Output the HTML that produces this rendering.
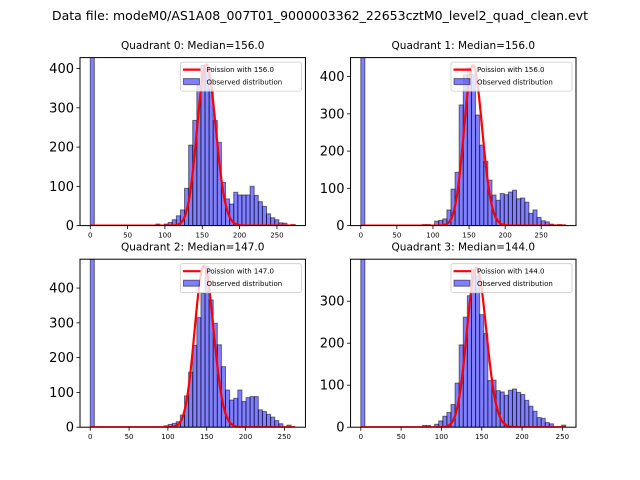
<!DOCTYPE html>
<html><head><meta charset="utf-8"><style>
html,body{margin:0;padding:0;background:#fff;}
svg{display:block;font-family:"DejaVu Sans","Liberation Sans",sans-serif;}
</style></head><body>
<svg id="fig" width="640" height="480" viewBox="0 0 640 480" xmlns="http://www.w3.org/2000/svg">
<rect x="0" y="0" width="640" height="480" fill="#fff"/>
<text x="320" y="20" text-anchor="middle" font-size="12.5" textLength="536" lengthAdjust="spacingAndGlyphs">Data file: modeM0/AS1A08_007T01_9000003362_22653cztM0_level2_quad_clean.evt</text>
</svg>
<script>
// ---- data ----
const quadrantNames = ["Quadrant 0","Quadrant 1","Quadrant 2","Quadrant 3"];
const medians = [156.0, 156.0, 147.0, 144.0];
const dataMax = [274.5, 284, 264, 254.2];
const yMaxes = [428, 451, 483, 400];
const yTicks0 = [0,100,200,300,400];
const yTicks1 = [0,100,200,300,400];
const yTicks2 = [0,100,200,300,400];
const yTicks3 = [0,100,200,300];
const xTickLabels = [0,50,100,150,200,250];
const zeroBinCounts = [5000,5000,5000,5000];
const firstBins = [16,15,18,15];
const counts0 = [4,0,4,8,15,25,40,95,205,268,357,408,400,348,268,212,110,68,55,85,78,78,78,100,77,61,49,30,20,15,7,6,0,3];
const counts1 = [3,3,0,12,14,18,42,98,143,324,404,423,405,297,216,172,122,82,68,86,83,90,95,72,74,63,33,42,22,13,10,4,2,3,2];
const counts2 = [4,8,11,16,35,90,158,235,315,385,462,366,299,237,174,107,78,83,107,74,85,88,88,50,45,37,29,19,10,0,6];
const counts3 = [4,4,0,7,15,26,35,54,105,196,262,313,376,360,268,223,111,112,87,84,76,88,91,83,78,64,50,38,23,21,11,8,0,0,5];
const curveScales = [12850, 13480, 14100, 11430];
const nBins = 50;

const allCounts=[counts0,counts1,counts2,counts3];
const allYTicks=[yTicks0,yTicks1,yTicks2,yTicks3];
const NS="http://www.w3.org/2000/svg";
const fig=document.getElementById('fig');
function mk(tag,attrs,parent){const e=document.createElementNS(NS,tag);for(const k in attrs)e.setAttribute(k,attrs[k]);(parent||fig).appendChild(e);return e;}
function lgamma(z){
  if(z<7){let p=1;while(z<7){p*=z;z+=1;}return lgamma(z)-Math.log(p);}
  return (z-0.5)*Math.log(z)-z+0.5*Math.log(2*Math.PI)+1/(12*z)-1/(360*z*z*z);
}
function poisson(k,mu){return Math.exp(k*Math.log(mu)-mu-lgamma(k+1));}

const W=225.45,H=168;
const lefts=[80,350.55,80,350.55], tops=[57.6,57.6,259.2,259.2];
for(let q=0;q<4;q++){
  const L=lefts[q],T=tops[q],R=dataMax[q],ym=yMaxes[q];
  const xs=v=>L+W*(v+0.05*R)/(1.1*R);
  const ys=v=>T+H-H*v/ym;
  const g=mk('g',{});
  
  
  const cp=mk('clipPath',{id:'clip'+q},g);
  mk('rect',{x:L,y:T,width:W,height:H},cp);
  const bars=mk('g',{'clip-path':'url(#clip'+q+')'},g);
  const w=R/nBins;
  const drawBar=(i,c,name)=>{
    if(c<=0)return;
    const r=mk('rect',{x:xs(i*w),y:ys(c),width:xs((i+1)*w)-xs(i*w),height:ys(0)-ys(c),fill:'#0000ff','fill-opacity':0.5,stroke:'#000','stroke-opacity':0.5,'stroke-width':1},bars);
    
    
  };
  drawBar(0,zeroBinCounts[q],'bar-zero');
  allCounts[q].forEach((c,j)=>drawBar(firstBins[q]+j,c,'histogram-bar'));
  let d='';
  for(let k=0;k<=Math.floor(R);k++){const v=curveScales[q]*poisson(k,medians[q]);d+=(k?'L':'M')+xs(k).toFixed(2)+' '+ys(v).toFixed(2);}
  const line=mk('path',{d:d,fill:'none',stroke:'#ff0000','stroke-width':2.2,'stroke-linejoin':'round'},bars);
  
  
  const fr=mk('rect',{x:L,y:T,width:W,height:H,fill:'none',stroke:'#000','stroke-width':1},g);
  
  
  allYTicks[q].forEach(t=>{
    const y=ys(t);
    mk('line',{x1:L-3.5,x2:L,y1:y,y2:y,stroke:'#000','stroke-width':0.8},g);
    const tx=mk('text',{x:L-6,y:y+4.5,'text-anchor':'end','font-size':13},g);
    tx.textContent=t;
    
    
  });
  xTickLabels.forEach(t=>{
    const x=xs(t);
    mk('line',{x1:x,x2:x,y1:T+H,y2:T+H+3.5,stroke:'#000','stroke-width':0.8},g);
    const tx=mk('text',{x:x,y:T+H+12,'text-anchor':'middle','font-size':7},g);
    tx.textContent=t;
    
    
  });
  const ti=mk('text',{x:L+W/2,y:T-8.5,'text-anchor':'middle','font-size':10.5},g);
  ti.textContent=quadrantNames[q]+': Median='+medians[q].toFixed(1);
  
  
  const lg=mk('g',{},g);
  
  
  const lx=L+W-125, ly=T+4.5;
  mk('rect',{x:lx,y:ly,width:121,height:29,rx:2,fill:'#fff','fill-opacity':0.8,stroke:'#ccc','stroke-width':0.8},lg);
  mk('line',{x1:lx+2.5,x2:lx+20,y1:ly+7.5,y2:ly+7.5,stroke:'#ff0000','stroke-width':2.2},lg);
  const t1=mk('text',{x:lx+26,y:ly+10,'font-size':7},lg);
  t1.textContent='Poission with '+medians[q].toFixed(1);
  
  
  mk('rect',{x:lx+3,y:ly+16.5,width:16,height:6,fill:'#0000ff','fill-opacity':0.5,stroke:'#000','stroke-opacity':0.5},lg);
  const t2=mk('text',{x:lx+26,y:ly+22.5,'font-size':7},lg);
  t2.textContent='Observed distribution';
  
  
}
</script>
</body></html>
